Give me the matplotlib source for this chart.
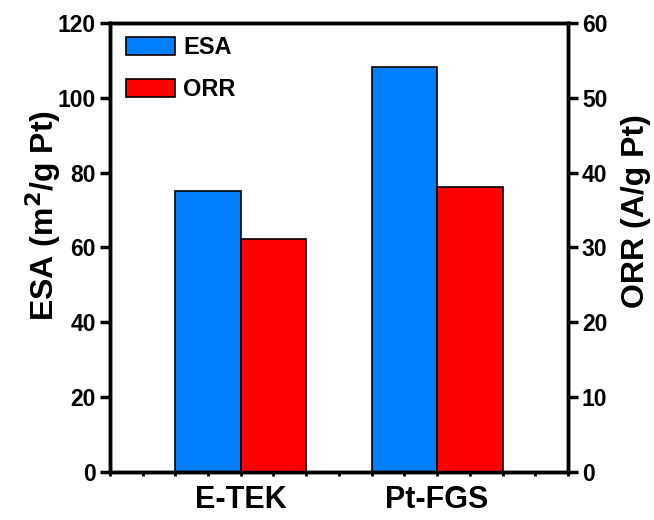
import numpy as np
import matplotlib
matplotlib.use("Agg")
import matplotlib.pyplot as plt
from matplotlib.ticker import MultipleLocator

plt.rcParams['font.family'] = ['Liberation Sans', 'DejaVu Sans']
plt.rcParams['font.weight'] = 'bold'

# data
categories = ['E-TEK', 'Pt-FGS']
esa = [75.0, 108.3]      # m2/g Pt, left axis
orr = [31.1, 38.1]       # A/g Pt, right axis
esa_ticks = [0, 20, 40, 60, 80, 100, 120]
orr_ticks = [0, 10, 20, 30, 40, 50, 60]

blue = '#0080ff'
red = '#ff0000'

fig = plt.figure(figsize=(6.54, 5.2), dpi=100)
ax = fig.add_axes([0.168, 0.0923, 0.7005, 0.8635])
ax2 = ax.twinx()

x = np.arange(1, len(categories) + 1)
w = 1 / 3
b1 = ax.bar(x - w / 2, esa, w, color=blue, edgecolor='black', linewidth=1.2, label='ESA')
b2 = ax2.bar(x + w / 2, orr, w, color=red, edgecolor='black', linewidth=1.2, label='ORR')

ax.set_xlim(1 / 3, 2 + 2 / 3)
ax.set_ylim(0, 120)
ax2.set_ylim(0, 60)
ax.set_xticks(x)
ax.set_xticklabels(categories, fontsize=22, fontweight='bold')
ax.xaxis.set_minor_locator(MultipleLocator(1 / 6))
ax.set_yticks(esa_ticks, labels=[str(t) for t in esa_ticks])
ax2.set_yticks(orr_ticks, labels=[str(t) for t in orr_ticks])

for a in (ax, ax2):
    for s in a.spines.values():
        s.set_linewidth(2.5)
    a.tick_params(axis='y', which='major', direction='out', length=7, width=2.5, pad=3)
ax.tick_params(axis='x', which='major', direction='out', length=3, width=2, pad=6)
ax.tick_params(axis='x', which='minor', direction='out', length=3, width=2)

ax.set_ylabel('ESA (m$^\\mathbf{2}$/g Pt)', fontsize=23, fontweight='bold', va='center')
ax2.set_ylabel('ORR (A/g Pt)', fontsize=23, fontweight='bold', va='center')
ax.yaxis.set_label_coords(-0.146, 0.572)
ax2.yaxis.set_label_coords(1.148, 0.581)

ax.legend([b1, b2], ['ESA', 'ORR'], loc='upper left', frameon=False,
          prop={'size': 17, 'weight': 'bold'}, handlelength=2.1,
          handleheight=0.8, labelspacing=0.8, handletextpad=0.35,
          borderaxespad=0.15, bbox_to_anchor=(0.006, 1.0))

fig.canvas.draw()
for a in (ax, ax2):
    for lab in a.get_yticklabels():
        lab.set_fontsize(16.5)
        lab.set_fontweight('heavy')

fig.savefig('out.png', dpi=100)
